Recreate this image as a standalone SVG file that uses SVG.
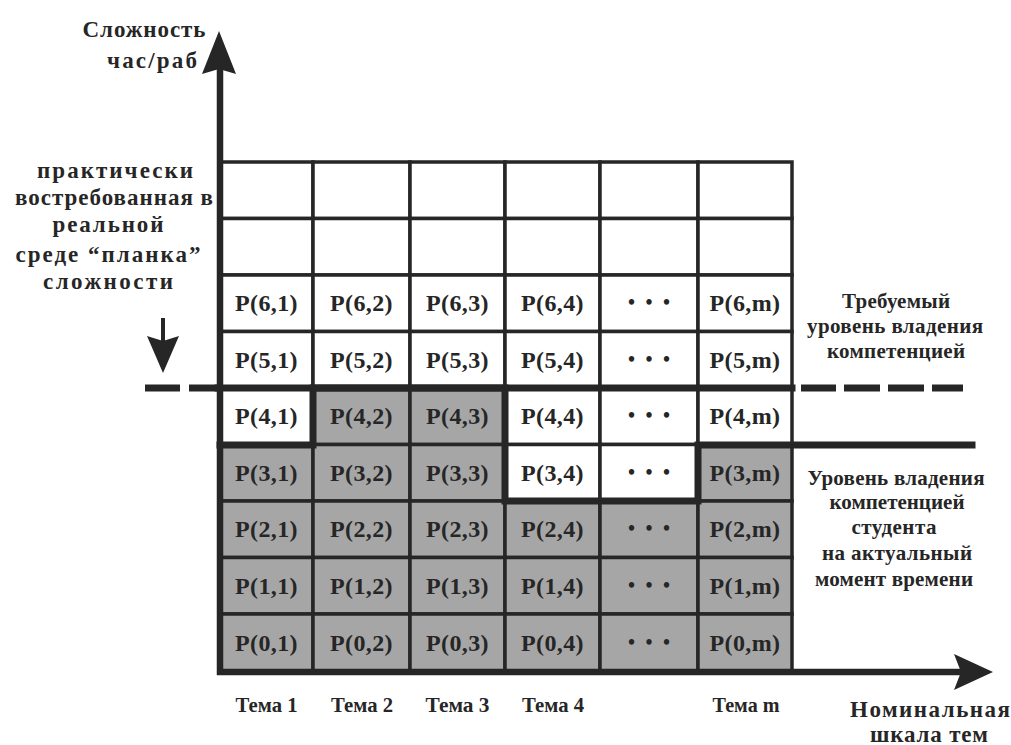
<svg xmlns="http://www.w3.org/2000/svg" width="1011" height="745" viewBox="0 0 1011 745">
<style>
text{font-family:"Liberation Serif","Times New Roman",serif;font-weight:bold;fill:#262626}
.w{fill:#fff;stroke:#262626;stroke-width:3.5}
.g{fill:#a6a6a6;stroke:#262626;stroke-width:3.5}
.c{font-size:24px;text-anchor:middle;letter-spacing:0.4px}
.d{font-size:20px;text-anchor:middle}
.lbl{font-size:23px;text-anchor:middle}
.rl{font-size:21px;text-anchor:middle}
.t{font-size:22px;text-anchor:middle}
.ax{stroke:#262626;stroke-width:6.5;fill:none}
.th{stroke:#262626;stroke-width:7;fill:none;stroke-linecap:square}
.ah{fill:#262626}
</style>
<rect width="1011" height="745" fill="#fff"/>
<g id="cells">
<g id="r8"><rect class="w" x="220" y="162" width="93" height="56.5"/><rect class="w" x="313" y="162" width="97" height="56.5"/><rect class="w" x="410" y="162" width="95" height="56.5"/><rect class="w" x="505" y="162" width="95" height="56.5"/><rect class="w" x="600" y="162" width="98" height="56.5"/><rect class="w" x="698" y="162" width="94" height="56.5"/></g>
<g id="r7"><rect class="w" x="220" y="218.5" width="93" height="56.5"/><rect class="w" x="313" y="218.5" width="97" height="56.5"/><rect class="w" x="410" y="218.5" width="95" height="56.5"/><rect class="w" x="505" y="218.5" width="95" height="56.5"/><rect class="w" x="600" y="218.5" width="98" height="56.5"/><rect class="w" x="698" y="218.5" width="94" height="56.5"/></g>
<g id="p61"><rect class="w" x="220" y="275" width="93" height="56.5"/><text class="c" x="266.5" y="311">P(6,1)</text></g>
<g id="p62"><rect class="w" x="313" y="275" width="97" height="56.5"/><text class="c" x="361.5" y="311">P(6,2)</text></g>
<g id="p63"><rect class="w" x="410" y="275" width="95" height="56.5"/><text class="c" x="457.5" y="311">P(6,3)</text></g>
<g id="p64"><rect class="w" x="505" y="275" width="95" height="56.5"/><text class="c" x="552.5" y="311">P(6,4)</text></g>
<g id="p65"><rect class="w" x="600" y="275" width="98" height="56.5"/><text class="d" x="649" y="309" textLength="42" lengthAdjust="spacing">• • •</text></g>
<g id="p6m"><rect class="w" x="698" y="275" width="94" height="56.5"/><text class="c" x="745" y="311">P(6,m)</text></g>
<g id="p51"><rect class="w" x="220" y="331.5" width="93" height="56.5"/><text class="c" x="266.5" y="368">P(5,1)</text></g>
<g id="p52"><rect class="w" x="313" y="331.5" width="97" height="56.5"/><text class="c" x="361.5" y="368">P(5,2)</text></g>
<g id="p53"><rect class="w" x="410" y="331.5" width="95" height="56.5"/><text class="c" x="457.5" y="368">P(5,3)</text></g>
<g id="p54"><rect class="w" x="505" y="331.5" width="95" height="56.5"/><text class="c" x="552.5" y="368">P(5,4)</text></g>
<g id="p55"><rect class="w" x="600" y="331.5" width="98" height="56.5"/><text class="d" x="649" y="366" textLength="42" lengthAdjust="spacing">• • •</text></g>
<g id="p5m"><rect class="w" x="698" y="331.5" width="94" height="56.5"/><text class="c" x="745" y="368">P(5,m)</text></g>
<g id="p41"><rect class="w" x="220" y="388" width="93" height="56.5"/><text class="c" x="266.5" y="424">P(4,1)</text></g>
<g id="p42"><rect class="g" x="313" y="388" width="97" height="56.5"/><text class="c" x="361.5" y="424">P(4,2)</text></g>
<g id="p43"><rect class="g" x="410" y="388" width="95" height="56.5"/><text class="c" x="457.5" y="424">P(4,3)</text></g>
<g id="p44"><rect class="w" x="505" y="388" width="95" height="56.5"/><text class="c" x="552.5" y="424">P(4,4)</text></g>
<g id="p45"><rect class="w" x="600" y="388" width="98" height="56.5"/><text class="d" x="649" y="422" textLength="42" lengthAdjust="spacing">• • •</text></g>
<g id="p4m"><rect class="w" x="698" y="388" width="94" height="56.5"/><text class="c" x="745" y="424">P(4,m)</text></g>
<g id="p31"><rect class="g" x="220" y="444.5" width="93" height="56.5"/><text class="c" x="266.5" y="481">P(3,1)</text></g>
<g id="p32"><rect class="g" x="313" y="444.5" width="97" height="56.5"/><text class="c" x="361.5" y="481">P(3,2)</text></g>
<g id="p33"><rect class="g" x="410" y="444.5" width="95" height="56.5"/><text class="c" x="457.5" y="481">P(3,3)</text></g>
<g id="p34"><rect class="w" x="505" y="444.5" width="95" height="56.5"/><text class="c" x="552.5" y="481">P(3,4)</text></g>
<g id="p35"><rect class="w" x="600" y="444.5" width="98" height="56.5"/><text class="d" x="649" y="479" textLength="42" lengthAdjust="spacing">• • •</text></g>
<g id="p3m"><rect class="g" x="698" y="444.5" width="94" height="56.5"/><text class="c" x="745" y="481">P(3,m)</text></g>
<g id="p21"><rect class="g" x="220" y="501" width="93" height="56.5"/><text class="c" x="266.5" y="537">P(2,1)</text></g>
<g id="p22"><rect class="g" x="313" y="501" width="97" height="56.5"/><text class="c" x="361.5" y="537">P(2,2)</text></g>
<g id="p23"><rect class="g" x="410" y="501" width="95" height="56.5"/><text class="c" x="457.5" y="537">P(2,3)</text></g>
<g id="p24"><rect class="g" x="505" y="501" width="95" height="56.5"/><text class="c" x="552.5" y="537">P(2,4)</text></g>
<g id="p25"><rect class="g" x="600" y="501" width="98" height="56.5"/><text class="d" x="649" y="535" textLength="42" lengthAdjust="spacing">• • •</text></g>
<g id="p2m"><rect class="g" x="698" y="501" width="94" height="56.5"/><text class="c" x="745" y="537">P(2,m)</text></g>
<g id="p11"><rect class="g" x="220" y="557.5" width="93" height="56.5"/><text class="c" x="266.5" y="594">P(1,1)</text></g>
<g id="p12"><rect class="g" x="313" y="557.5" width="97" height="56.5"/><text class="c" x="361.5" y="594">P(1,2)</text></g>
<g id="p13"><rect class="g" x="410" y="557.5" width="95" height="56.5"/><text class="c" x="457.5" y="594">P(1,3)</text></g>
<g id="p14"><rect class="g" x="505" y="557.5" width="95" height="56.5"/><text class="c" x="552.5" y="594">P(1,4)</text></g>
<g id="p15"><rect class="g" x="600" y="557.5" width="98" height="56.5"/><text class="d" x="649" y="592" textLength="42" lengthAdjust="spacing">• • •</text></g>
<g id="p1m"><rect class="g" x="698" y="557.5" width="94" height="56.5"/><text class="c" x="745" y="594">P(1,m)</text></g>
<g id="p01"><rect class="g" x="220" y="614" width="93" height="58"/><text class="c" x="266.5" y="651">P(0,1)</text></g>
<g id="p02"><rect class="g" x="313" y="614" width="97" height="58"/><text class="c" x="361.5" y="651">P(0,2)</text></g>
<g id="p03"><rect class="g" x="410" y="614" width="95" height="58"/><text class="c" x="457.5" y="651">P(0,3)</text></g>
<g id="p04"><rect class="g" x="505" y="614" width="95" height="58"/><text class="c" x="552.5" y="651">P(0,4)</text></g>
<g id="p05"><rect class="g" x="600" y="614" width="98" height="58"/><text class="d" x="649" y="649" textLength="42" lengthAdjust="spacing">• • •</text></g>
<g id="p0m"><rect class="g" x="698" y="614" width="94" height="58"/><text class="c" x="745" y="651">P(0,m)</text></g>
</g>
<g id="connectors">
<line class="ax" x1="220" y1="66" x2="220" y2="675"/>
<polygon class="ah" points="219,31 236,74 219,69 202,74"/>
<line class="ax" x1="217" y1="672" x2="962" y2="672"/>
<polygon class="ah" points="993,672 954,654 961,672 954,690"/>
<line class="th" x1="218" y1="388" x2="792" y2="388" stroke-linecap="butt"/>
<g stroke="#262626" stroke-width="7">
<line x1="145" y1="388" x2="180" y2="388"/>
<line x1="189" y1="388" x2="218" y2="388"/>
<line x1="801" y1="388" x2="836" y2="388"/>
<line x1="844" y1="388" x2="880" y2="388"/>
<line x1="888" y1="388" x2="924" y2="388"/>
<line x1="932" y1="388" x2="963" y2="388"/>
</g>
<polyline class="th" points="220,445 313,445 313,388 505,388 505,501 698,501 698,445 972,445" stroke-linecap="butt" stroke-linejoin="miter"/>
<line x1="163" y1="318" x2="163" y2="345" stroke="#262626" stroke-width="4"/>
<polygon class="ah" points="147,336 163,341 179,336 163,373"/>
</g>
<g id="labels">
<text class="lbl" x="144" y="37" textLength="123" lengthAdjust="spacing">Сложность</text>
<text class="lbl" x="152" y="68" textLength="90" lengthAdjust="spacing">час/раб</text>
<text class="lbl" x="115" y="178" textLength="156" lengthAdjust="spacing">практически</text>
<text class="lbl" x="114" y="205" textLength="198" lengthAdjust="spacing">востребованная в</text>
<text class="lbl" x="108" y="232" textLength="111" lengthAdjust="spacing">реальной</text>
<text class="lbl" x="108" y="262" textLength="185" lengthAdjust="spacing">среде “планка”</text>
<text class="lbl" x="108" y="289" textLength="130" lengthAdjust="spacing">сложности</text>
<text class="rl" x="896" y="308" textLength="108" lengthAdjust="spacing">Требуемый</text>
<text class="rl" x="895" y="333" textLength="176" lengthAdjust="spacing">уровень владения</text>
<text class="rl" x="896" y="358" textLength="138" lengthAdjust="spacing">компетенцией</text>
<text class="rl" x="896" y="485" textLength="177" lengthAdjust="spacing">Уровень владения</text>
<text class="rl" x="897" y="509" textLength="135" lengthAdjust="spacing">компетенцией</text>
<text class="rl" x="894" y="534" textLength="85" lengthAdjust="spacing">студента</text>
<text class="rl" x="897" y="560" textLength="150" lengthAdjust="spacing">на актуальный</text>
<text class="rl" x="894" y="586" textLength="158" lengthAdjust="spacing">момент времени</text>
<text class="t" x="266.5" y="712" textLength="62" lengthAdjust="spacingAndGlyphs">Тема 1</text>
<text class="t" x="362" y="712" textLength="62" lengthAdjust="spacingAndGlyphs">Тема 2</text>
<text class="t" x="457.5" y="712" textLength="64" lengthAdjust="spacingAndGlyphs">Тема 3</text>
<text class="t" x="553" y="712" textLength="62" lengthAdjust="spacingAndGlyphs">Тема 4</text>
<text class="t" x="746" y="712" textLength="67" lengthAdjust="spacingAndGlyphs">Тема m</text>
<text class="lbl" x="930" y="717" textLength="160" lengthAdjust="spacing">Номинальная</text>
<text class="lbl" x="929" y="742" textLength="118" lengthAdjust="spacing">шкала тем</text>
</g>
</svg>
